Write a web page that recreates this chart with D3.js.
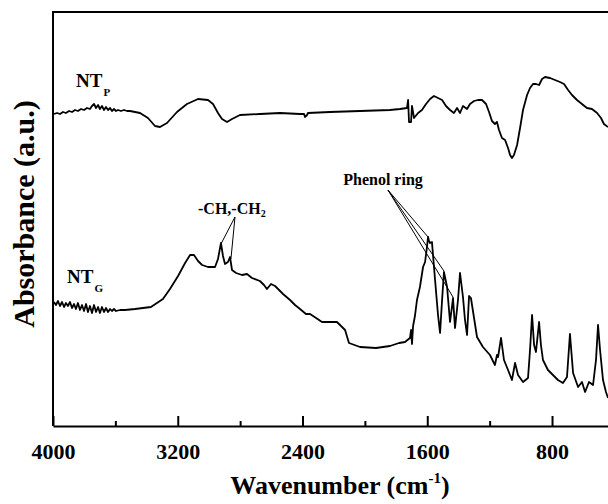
<!DOCTYPE html>
<html lang="en">
<head>
    <meta charset="UTF-8">
    <script src="https://cdn.jsdelivr.net/npm/d3@7"></script>
    <title>FTIR spectra</title>
    <style>
        * { margin: 0; padding: 0; }
        body, html { width: 608px; height: 504px; background: #fff; overflow: hidden; }
        svg { display: block; }
        text { font-family: "Liberation Serif", "Times New Roman", serif; font-weight: bold; fill: #000; }
    </style>
</head>
<body>
<svg id="chart" width="608" height="504"></svg>
<script>
      // wavenumbers (cm-1) and absorbance (a.u.)
      var wnP = [3994, 3974, 3955, 3936, 3917, 3897, 3878, 3859, 3840, 3820, 3801, 3782, 3763, 3750, 3737, 3724, 3711, 3699,
        3686, 3673, 3660, 3647, 3634, 3622, 3609, 3596, 3583, 3564, 3545, 3525, 3506, 3474, 3442, 3391, 3346, 3314, 3269,
        3205, 3141, 3070, 3006, 2974, 2942, 2916, 2884, 2852, 2801, 2673, 2544, 2416, 2390, 2384, 2371, 2365, 2224, 2031,
        1839, 1775, 1730, 1723, 1717, 1704, 1698, 1685, 1659, 1634, 1608, 1582, 1557, 1531, 1505, 1480, 1454, 1429, 1409,
        1390, 1371, 1345, 1326, 1300, 1275, 1249, 1223, 1204, 1185, 1166, 1153, 1140, 1121, 1101, 1082, 1069, 1057, 1044,
        1024, 1005, 986, 960, 941, 922, 903, 883, 864, 845, 813, 781, 749, 723, 697, 672, 640, 608, 576, 544, 511, 486,
        467, 441];
      var absP = [3.12, 3.13, 3.12, 3.14, 3.13, 3.15, 3.14, 3.16, 3.15, 3.17, 3.16, 3.18, 3.17, 3.20, 3.22, 3.18, 3.21, 3.17,
        3.20, 3.16, 3.19, 3.16, 3.18, 3.15, 3.17, 3.15, 3.16, 3.15, 3.16, 3.15, 3.15, 3.14, 3.13, 3.08, 3.00, 2.99, 3.03,
        3.14, 3.22, 3.27, 3.26, 3.22, 3.13, 3.07, 3.04, 3.07, 3.11, 3.12, 3.13, 3.12, 3.12, 3.09, 3.11, 3.13, 3.14, 3.15,
        3.16, 3.17, 3.18, 3.26, 3.04, 3.04, 3.20, 3.08, 3.13, 3.16, 3.22, 3.27, 3.30, 3.28, 3.26, 3.20, 3.16, 3.13, 3.18,
        3.13, 3.20, 3.17, 3.22, 3.25, 3.26, 3.26, 3.22, 3.14, 3.05, 3.02, 3.04, 2.96, 2.88, 2.86, 2.78, 2.71, 2.68, 2.71,
        2.81, 2.98, 3.16, 3.31, 3.38, 3.42, 3.42, 3.41, 3.47, 3.49, 3.48, 3.46, 3.44, 3.42, 3.36, 3.31, 3.26, 3.22, 3.18,
        3.17, 3.13, 3.08, 3.02, 2.99];

      var wnG = [3994, 3981, 3968, 3955, 3942, 3929, 3917, 3904, 3891, 3878, 3865, 3853, 3840, 3827, 3814, 3801, 3788, 3776,
        3763, 3750, 3737, 3724, 3711, 3699, 3686, 3673, 3660, 3647, 3634, 3622, 3609, 3596, 3570, 3538,
        3474, 3372, 3295, 3250, 3198, 3153, 3121, 3096, 3070, 3044, 3006, 2961, 2942, 2923, 2910, 2897, 2878, 2865, 2852,
        2826, 2788, 2756, 2724, 2673, 2647, 2628, 2602, 2576, 2525, 2480, 2448, 2416, 2378, 2352, 2313, 2275, 2224, 2179,
        2153, 2127, 2102, 2031, 1929, 1839, 1781, 1743, 1711, 1704, 1698, 1691, 1679, 1666, 1647, 1627, 1614, 1602, 1595,
        1589, 1582, 1570, 1550, 1531, 1518, 1505, 1493, 1473, 1454, 1441, 1435, 1422, 1403, 1390, 1371, 1358, 1345, 1332,
        1320, 1300, 1281, 1243, 1198, 1166, 1153, 1146, 1127, 1108, 1082, 1057, 1037, 1018, 986, 954, 941, 928, 915, 903,
        883, 871, 858, 826, 794, 762, 730, 704, 685, 665, 633, 608, 588, 563, 537, 518, 505, 492, 473, 454, 441];
      var absG = [1.24, 1.21, 1.25, 1.20, 1.24, 1.19, 1.23, 1.20, 1.24, 1.18, 1.22, 1.17, 1.23, 1.16, 1.21, 1.15, 1.22, 1.14,
        1.20, 1.13, 1.21, 1.14, 1.19, 1.13, 1.19, 1.14, 1.18, 1.14, 1.17, 1.15, 1.17, 1.15, 1.16, 1.16,
        1.17, 1.19, 1.27, 1.37, 1.50, 1.63, 1.71, 1.71, 1.65, 1.61, 1.59, 1.59, 1.67, 1.83, 1.70, 1.62, 1.64, 1.69, 1.56,
        1.53, 1.51, 1.52, 1.48, 1.45, 1.41, 1.37, 1.42, 1.40, 1.32, 1.26, 1.21, 1.17, 1.12, 1.12, 1.08, 1.04, 1.04, 1.04,
        1.00, 0.96, 0.83, 0.79, 0.78, 0.80, 0.83, 0.84, 0.88, 0.96, 0.82, 1.00, 1.10, 1.26, 1.39, 1.59, 1.64, 1.79, 1.89,
        1.85, 1.83, 1.84, 1.46, 1.11, 0.93, 1.26, 1.54, 1.39, 1.04, 1.20, 1.28, 0.98, 1.26, 1.53, 1.29, 1.06, 0.91, 1.30,
        1.28, 1.08, 0.89, 0.79, 0.71, 0.61, 0.71, 0.69, 0.88, 0.66, 0.56, 0.46, 0.63, 0.51, 0.44, 0.48, 0.76, 1.11, 0.81, 0.74,
        1.04, 0.81, 0.66, 0.56, 0.51, 0.46, 0.43, 0.49, 0.92, 0.53, 0.39, 0.44, 0.34, 0.44, 0.41, 0.66, 1.01, 0.76, 0.46, 0.34, 0.28];

      var majorTicks = [4000, 3200, 2400, 1600, 800];
      var minorTicks = [3600, 2800, 2000, 1200];

      // annotation leaders: [label anchor wn, abs] -> peaks [wn, abs]
      var phenolFrom = [1852, 2.36];
      var phenolPeaks = [[1595, 1.89], [1493, 1.55], [1435, 1.29]];
      var chFrom = [2833, 2.09];
      var chPeaks = [[2923, 1.82], [2859, 1.67]];

      var svg = d3.select('#chart');
      var plotLeft = 53, plotTop = 12, plotBottom = 426;

      var x = d3.scaleLinear().domain([4000, 400]).range([plotLeft, 614.4]);
      var y = d3.scaleLinear().domain([0, 4.14]).range([plotBottom, plotTop]);

      svg.append('rect').attr('width', 608).attr('height', 504).attr('fill', '#fff');

      // frame (right side runs off the picture)
      svg.append('path')
        .attr('d', 'M' + x.range()[1] + ',' + plotTop + 'H' + plotLeft + 'V' + plotBottom)
        .attr('fill', 'none')
        .attr('stroke', '#000')
        .attr('stroke-width', 2);

      var xAxis = svg.append('g')
        .attr('transform', 'translate(0,' + plotBottom + ')')
        .call(d3.axisBottom(x).tickValues(majorTicks).tickSize(-10).tickSizeOuter(0).tickPadding(17)
          .tickFormat(d3.format('d')));
      xAxis.select('.domain').attr('stroke-width', 2);
      xAxis.selectAll('.tick line').attr('stroke-width', 2);
      xAxis.selectAll('.tick text')
        .attr('font-family', '"Liberation Serif", serif')
        .attr('font-weight', 'bold')
        .attr('font-size', 22)
        .attr('fill', '#000');

      var xMinor = svg.append('g')
        .attr('transform', 'translate(0,' + plotBottom + ')')
        .call(d3.axisBottom(x).tickValues(minorTicks).tickSize(-5).tickSizeOuter(0).tickFormat(''));
      xMinor.select('.domain').remove();
      xMinor.selectAll('.tick line').attr('stroke-width', 2);

      var line = d3.line()
        .x(function (d) { return x(d[0]); })
        .y(function (d) { return y(d[1]); });

      function drawSpectrum(wn, ab) {
        svg.append('path')
          .datum(wn.map(function (w, i) { return [w, ab[i]]; }))
          .attr('d', line)
          .attr('fill', 'none')
          .attr('stroke', '#000')
          .attr('stroke-width', 1.8)
          .attr('stroke-linejoin', 'round');
      }

      drawSpectrum(wnP, absP);
      drawSpectrum(wnG, absG);

      function drawLeaders(from, peaks) {
        peaks.forEach(function (p) {
          svg.append('line')
            .attr('x1', x(from[0])).attr('y1', y(from[1]))
            .attr('x2', x(p[0])).attr('y2', y(p[1]))
            .attr('stroke', '#000')
            .attr('stroke-width', 1);
        });
      }
      drawLeaders(phenolFrom, phenolPeaks);
      drawLeaders(chFrom, chPeaks);

      // labels
      var nt = svg.append('text').attr('x', 76).attr('y', 87).attr('font-size', 19);
      nt.append('tspan').text('NT');
      nt.append('tspan').attr('font-size', 11).attr('dy', 9).attr('dx', 1).text('P');

      var ntg = svg.append('text').attr('x', 67).attr('y', 283).attr('font-size', 19);
      ntg.append('tspan').text('NT');
      ntg.append('tspan').attr('font-size', 11).attr('dy', 9).attr('dx', 1).text('G');

      svg.append('text').attr('x', 383).attr('y', 185).attr('font-size', 16)
        .attr('text-anchor', 'middle').text('Phenol ring');

      var ch = svg.append('text').attr('x', 198).attr('y', 214).attr('font-size', 16);
      ch.append('tspan').text('-CH,-CH');
      ch.append('tspan').attr('font-size', 10).attr('dy', 3).text('2');

      svg.append('text')
        .attr('transform', 'translate(34,214) rotate(-90)')
        .attr('text-anchor', 'middle')
        .attr('font-size', 30)
        .text('Absorbance (a.u.)');

      var xt = svg.append('text').attr('x', 340).attr('y', 494)
        .attr('text-anchor', 'middle').attr('font-size', 26);
      xt.append('tspan').text('Wavenumber (cm');
      xt.append('tspan').attr('font-size', 15).attr('dy', -11).text('-1');
      xt.append('tspan').attr('dy', 11).text(')');
</script>
</body>
</html>
